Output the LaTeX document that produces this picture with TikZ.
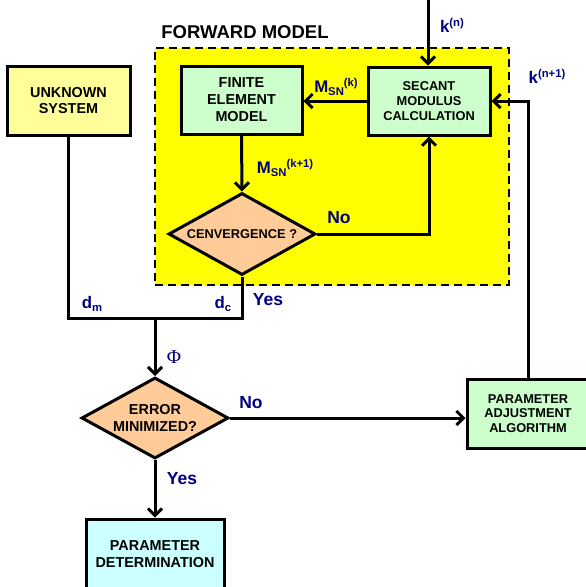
\documentclass[tikz,border=0pt]{standalone}
\usepackage{fontspec}
\setmainfont{Liberation Sans}
\newfontfamily\phifont{Liberation Serif}
\usetikzlibrary{arrows.meta,shapes.geometric}

\definecolor{fwdyellow}{HTML}{FFFF00}
\definecolor{unkyellow}{HTML}{FFFF99}
\definecolor{boxgreen}{HTML}{CCFFCC}
\definecolor{peach}{HTML}{FFCC99}
\definecolor{boxcyan}{HTML}{CCFFFF}
\definecolor{navy}{HTML}{000080}

% label pieces: main letter, lowered subscript, raised superscript
\newcommand{\bigtxt}[1]{{\fontsize{16.8}{16.8}\selectfont #1}}
\newcommand{\smalltxt}[1]{{\fontsize{11.3}{11.3}\selectfont #1}}
\newcommand{\subtxt}[1]{\raisebox{-3pt}{\smalltxt{#1}}}
\newcommand{\suptxt}[1]{\raisebox{6pt}{\smalltxt{#1}}}

\begin{document}
\begin{tikzpicture}[x=1pt,y=-1pt,
  blockbox/.style={draw, line width=3pt, align=center, inner sep=0pt,
    font=\bfseries\fontsize{14.4}{16.9}\selectfont},
  decision/.style={diamond, draw, line width=3pt, fill=peach, align=center,
    inner sep=0pt, aspect=1.8, minimum width=147pt, minimum height=82pt},
  flow/.style={line width=3pt, line join=miter,
    -{Straight Barb[length=7pt,width=14pt]}},
  wire/.style={line width=3pt, line join=miter},
  lab/.style={text=navy, font=\bfseries\fontsize{17.5}{17.5}\selectfont, inner sep=0pt, anchor=base},
]
\useasboundingbox (0,0) rectangle (586,587);
\clip (0,0) rectangle (586,587);

% forward model region
\node[draw, line width=2.5pt, dash pattern=on 8pt off 5pt, fill=fwdyellow,
  minimum width=354pt, minimum height=237pt, inner sep=0pt] (fwdbox) at (332,166.5) {};
\node[inner sep=0pt, anchor=base, font=\bfseries\fontsize{18.5}{18.5}\selectfont] (fwdtitle) at (245,38) {FORWARD MODEL};

% blocks
\node[blockbox, fill=unkyellow, minimum width=123pt, minimum height=69pt] (unk) at (68.5,100.5) {UNKNOWN\\SYSTEM};
\node[blockbox, fill=boxgreen, minimum width=121pt, minimum height=68pt] (fem) at (241.5,100) {FINITE\\ELEMENT\\MODEL};
\node[blockbox, fill=boxgreen, minimum width=122pt, minimum height=68pt,
  font=\bfseries\fontsize{12.8}{15}\selectfont] (sec) at (429,101) {SECANT\\MODULUS\\CALCULATION};
\node[decision, font=\bfseries\fontsize{12.8}{14}\selectfont] (conv) at (242,234) {CENVERGENCE ?};
\node[decision, minimum height=81pt, font=\bfseries\fontsize{14.4}{17}\selectfont] (err) at (155,418) {ERROR\\MINIMIZED?};
\node[blockbox, fill=boxgreen, minimum width=122pt, minimum height=69pt,
  font=\bfseries\fontsize{12.8}{14.7}\selectfont] (adj) at (528,413.5) {PARAMETER\\ADJUSTMENT\\ALGORITHM};
\node[blockbox, fill=boxcyan, minimum width=138pt, minimum height=70pt] (det) at (155,554) {PARAMETER\\DETERMINATION};

% free ends and junctions
\coordinate (kin) at (428,0);
\coordinate (join) at (155,318);

% connectors
\draw[flow] (kin) -- (kin |- sec.north);
\draw[flow] (sec.west) -- (fem.east |- sec.west);
\draw[flow] (fem.south) -- (conv.north);
\draw[flow] (conv.east) -| (sec.south);
\draw[wire] (unk.south) |- (join) -| (conv.south);
\draw[flow] (join) -- (err.north);
\draw[flow] (err.east) -- (adj.west |- err.east);
\draw[flow] (err.south) -- (det.north);
\draw[flow] (adj.north) |- (sec.east);

% labels
\node[lab] (lkn) at (452,32) {\bigtxt{k}\suptxt{(n)}};
\node[lab] (lkn1) at (547,83) {\bigtxt{k}\suptxt{(n+1)}};
\node[lab] (lmk) at (336,92) {\bigtxt{M}\subtxt{SN}\suptxt{(k)}};
\node[lab] (lmk1) at (285,173) {\bigtxt{M}\subtxt{SN}\suptxt{(k+1)}};
\node[lab] (lno1) at (339,223) {No};
\node[lab] (lyes1) at (268,305) {Yes};
\node[lab] (ldm) at (92,308) {\bigtxt{d}\subtxt{m}};
\node[lab] (ldc) at (223,308) {\bigtxt{d}\subtxt{c}};
\node[lab, font=\phifont\fontsize{19.5}{19.5}\selectfont] (lphi) at (174,363) {Φ};
\node[lab] (lno2) at (251,408) {No};
\node[lab] (lyes2) at (182,484) {Yes};
\end{tikzpicture}
\end{document}
